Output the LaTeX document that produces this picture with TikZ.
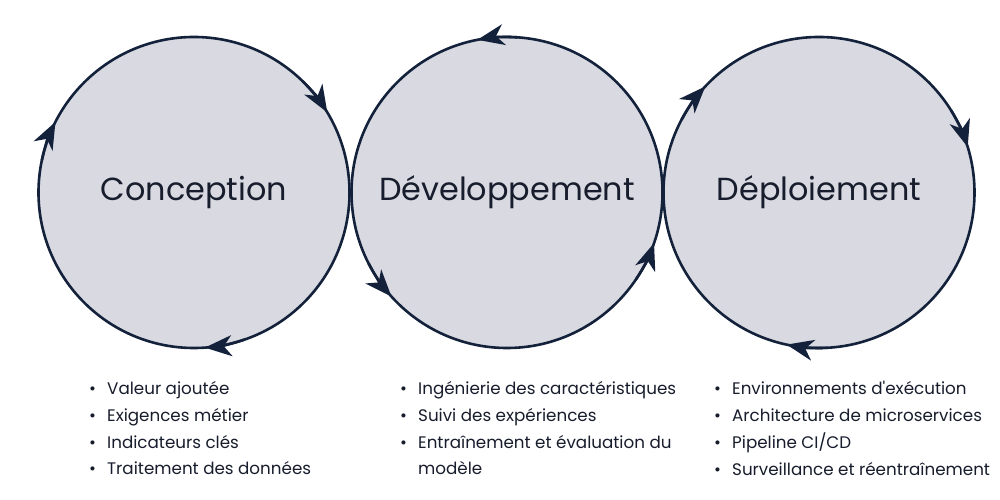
\documentclass[tikz,border=0pt]{standalone}
\usepackage{fontspec}
\setmainfont{Poppins}[Ligatures=TeXOff]
\usetikzlibrary{arrows.meta}
\definecolor{ink}{HTML}{13213A}
\definecolor{disc}{HTML}{D8D9E1}
\definecolor{txt}{HTML}{171D2C}
\newcommand{\blt}{\makebox[18bp][l]{•}}
\begin{document}
\begin{tikzpicture}[x=1bp,y=1bp,
  phase/.style={circle, draw=ink, line width=2.6bp, fill=disc, minimum size=311bp,
    inner sep=0pt, outer sep=0pt, text=txt, font=\fontsize{32}{40}\selectfont},
  flow/.style={draw=ink, line width=2.6bp, -{Stealth[length=27bp,width=21bp,inset=8bp]}},
  itemlist/.style={anchor=north west, inner sep=0pt, align=left, text=txt,
    font=\fontsize{16.8}{27}\selectfont}]
\fill[white] (0,0) rectangle (1000,500);
\useasboundingbox (0,0) rectangle (1000,500);
\node[phase] (c1) at (194,307.5) {Conception};
\node[phase] (c2) at (507,307.5) {Développement};
\node[phase] (c3) at (819,307.5) {Déploiement};
% left circle: clockwise
\draw[flow] (c1.46) arc[start angle=46,end angle=31,radius=155.5];
\draw[flow] (c1.168) arc[start angle=168,end angle=153,radius=155.5];
\draw[flow] (c1.-71) arc[start angle=-71,end angle=-86,radius=155.5];
% middle circle: counter-clockwise
\draw[flow] (c2.86) arc[start angle=86,end angle=101,radius=155.5];
\draw[flow] (c2.207) arc[start angle=207,end angle=222,radius=155.5];
\draw[flow] (c2.-34) arc[start angle=-34,end angle=-19,radius=155.5];
% right circle: clockwise
\draw[flow] (c3.152) arc[start angle=152,end angle=137,radius=155.5];
\draw[flow] (c3.32) arc[start angle=32,end angle=17,radius=155.5];
\draw[flow] (c3.-87) arc[start angle=-87,end angle=-102,radius=155.5];
% lists
\node[itemlist] (l1) at (89,119) {\blt Valeur ajoutée\\ \blt Exigences métier\\ \blt Indicateurs clés\\ \blt Traitement des données};
\node[itemlist] (l2) at (400,119) {\blt Ingénierie des caractéristiques\\ \blt Suivi des expériences\\ \blt Entraînement et évaluation du\\ \hspace*{18bp}modèle};
\node[itemlist] (l3) at (714,119) {\blt Environnements d'exécution\\ \blt Architecture de microservices\\ \blt Pipeline CI/CD\\ \blt Surveillance et réentraînement};
\end{tikzpicture}
\end{document}
